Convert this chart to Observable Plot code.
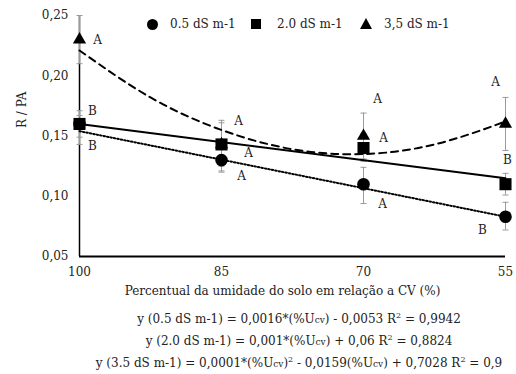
<!DOCTYPE html>
<html>
<head>
<meta charset="utf-8">
<script src="https://cdn.jsdelivr.net/npm/d3@7"></script>
<script src="https://cdn.jsdelivr.net/npm/@observablehq/plot@0.6"></script>
<style>
  body { margin: 0; background: white; font-family: "DejaVu Serif", "Liberation Serif", serif; color: #222; }
  #wrap { position: relative; width: 516px; height: 374px; }
  .lg { position: absolute; font-size: 12px; line-height: 16px; white-space: nowrap; }
  .sym { position: absolute; background: #000; }
  #eq { font-size: 12px; line-height: 21px; text-align: center; padding-left: 82px; padding-top: 7px; white-space: nowrap; }
  .sub { font-size: 9px; }
  sup { font-size: 8px; line-height: 0; }
  svg text { font-family: "DejaVu Serif", "Liberation Serif", serif; }
</style>
</head>
<body>
<div id="wrap">
  <div id="chart"></div>
  <div id="legend"></div>
  <div id="eq"></div>
</div>
<script>
// ---- data ----
const moisture = [100, 85, 70, 55];
const seriesNames = ["0.5 dS m-1", "2.0 dS m-1", "3,5 dS m-1"];
const v05 = [0.16, 0.13, 0.11, 0.083];
const v20 = [0.16, 0.143, 0.14, 0.11];
const v35 = [0.23, 0.143, 0.15, 0.16];
const lo05 = [0.143, 0.121, 0.094, 0.072];
const hi05 = [0.167, 0.139, 0.124, 0.095];
const lo20 = [0.149, 0.125, 0.129, 0.101];
const hi20 = [0.171, 0.161, 0.152, 0.119];
const lo35 = [0.21, 0.12, 0.131, 0.138];
const hi35 = [0.25, 0.163, 0.169, 0.182];
const letters05 = ["B", "A", "A", "B"];
const letters20 = ["B", "A", "A", "B"];
const letters35 = ["A", "A", "A", "A"];
const trendX = [100, 55];
const trend05 = [0.154, 0.083];
const trend20 = [0.16, 0.115];
const curveX = [100, 92.5, 85, 77.5, 70, 62.5, 55];
const trend35 = [0.221, 0.182, 0.155, 0.139, 0.135, 0.143, 0.162];
const xTicks = [100, 85, 70, 55];
const yTicks = [0.05, 0.10, 0.15, 0.20, 0.25];
const yTickLabels = ["0,05", "0,10", "0,15", "0,20", "0,25"];
const xTitle = "Percentual da umidade do solo em relação a CV (%)";
const yTitle = "R / PA";
const equations = [
  'y (0.5 dS m-1) = 0,0016*(%U<span class="sub">cv</span>) - 0,0053 R<sup>2</sup> = 0,9942',
  'y (2.0 dS m-1) = 0,001*(%U<span class="sub">cv</span>) + 0,06 R<sup>2</sup> = 0,8824',
  'y (3.5 dS m-1) = 0,0001*(%U<span class="sub">cv</span>)<sup>2</sup> - 0,0159(%U<span class="sub">cv</span>) + 0,7028 R<sup>2</sup> = 0,9'
];

const FONT = '"DejaVu Serif", "Liberation Serif", serif';

// ---- build tables ----
const vals = [v05, v20, v35], los = [lo05, lo20, lo35], his = [hi05, hi20, hi35];
const letters = [letters05, letters20, letters35];
const points = [];
vals.forEach((arr, s) => arr.forEach((v, i) => points.push({s, x: moisture[i], v, lo: los[s][i], hi: his[s][i]})));
const trendLin = [];
trendX.forEach((x, i) => { trendLin.push({s: 0, x, y: trend05[i]}); trendLin.push({s: 1, x, y: trend20[i]}); });
const curve = curveX.map((x, i) => ({x, y: trend35[i]}));

// label layout: [series, point, anchor, dx, dy]
const labelLayout = [
  [2, 0, "v", 18, 1], [1, 0, "hi", 13, 0], [0, 0, "lo", 13, 2],
  [2, 1, "hi", 17, 1], [1, 1, "v", 27, 9], [0, 1, "lo", 20, 5],
  [2, 2, "hi", 14, -14], [1, 2, "v", 20, -10], [0, 2, "lo", 19, 1],
  [2, 3, "hi", -10, -15], [1, 3, "hi", 2, -13], [0, 3, "lo", -23, 0]
];
const anchorOf = (s, i, a) => a === "v" ? vals[s][i] : a === "hi" ? his[s][i] : los[s][i];

const cap = { draw(ctx, size) { ctx.moveTo(-3, 0); ctx.lineTo(3, 0); } };
const symbols = ["circle", "square", "triangle"];
const radii = [6.3, 6.8, 4.9];

const marks = [
  Plot.ruleX([100], {stroke: "#000", strokeWidth: 1.5}),
  Plot.ruleY([0.05], {stroke: "#000", strokeWidth: 2}),
  Plot.ruleX(points, {x: "x", y1: "lo", y2: "hi", stroke: "#9a9a9a", strokeWidth: 1}),
  Plot.dot(points, {x: "x", y: "lo", symbol: cap, r: 2, stroke: "#9a9a9a", strokeWidth: 1, fill: "none"}),
  Plot.dot(points, {x: "x", y: "hi", symbol: cap, r: 2, stroke: "#9a9a9a", strokeWidth: 1, fill: "none"}),
  Plot.line(trendLin.filter(d => d.s === 0), {x: "x", y: "y", stroke: "#000", strokeWidth: 2, strokeDasharray: "1.5 2"}),
  Plot.line(trendLin.filter(d => d.s === 1), {x: "x", y: "y", stroke: "#000", strokeWidth: 2}),
  Plot.line(curve, {x: "x", y: "y", curve: "natural", stroke: "#000", strokeWidth: 2, strokeDasharray: "7 5"})
];
[0, 1, 2].forEach(s => {
  marks.push(Plot.dot(points.filter(d => d.s === s), {x: "x", y: "v", symbol: symbols[s], r: radii[s], fill: "#000", stroke: "none"}));
});
labelLayout.forEach(([s, i, a, dx, dy]) => {
  marks.push(Plot.text([{x: moisture[i], y: anchorOf(s, i, a), t: letters[s][i]}],
    {x: "x", y: "y", text: "t", dx, dy, fontSize: 12, fill: "#222", textAnchor: "middle"}));
});
marks.push(Plot.text([xTitle], {text: d => d, frameAnchor: "bottom", dy: 38, dx: -10, fontSize: 12, fill: "#222"}));
marks.push(Plot.text([yTitle], {text: d => d, frameAnchor: "left", dx: -57, dy: -8, rotate: -90, fontSize: 12, fill: "#222"}));

const chart = Plot.plot({
  width: 516, height: 302,
  marginLeft: 79, marginRight: 11, marginTop: 15, marginBottom: 46,
  style: {fontFamily: FONT, fontSize: "12px", color: "#222", background: "white"},
  x: {domain: [100, 55], ticks: xTicks, tickSize: 0, tickPadding: 11, label: null, tickFormat: d => String(d)},
  y: {domain: [0.05, 0.25], ticks: yTicks, tickSize: 0, tickPadding: 11, label: null,
      tickFormat: d => yTickLabels[yTicks.indexOf(d)]},
  marks
});
document.getElementById("chart").appendChild(chart);

// legend
const lg = document.getElementById("legend");
const legendItems = [
  {sym: "circle", symX: 146.5, textX: 170},
  {sym: "square", symX: 251, textX: 277},
  {sym: "triangle", symX: 360, textX: 384}
];
legendItems.forEach((it, k) => {
  const s = document.createElement("div");
  if (it.sym === "circle") { s.className = "sym"; Object.assign(s.style, {left: it.symX + "px", top: "18.5px", width: "11px", height: "11px", borderRadius: "50%"}); }
  else if (it.sym === "square") { s.className = "sym"; Object.assign(s.style, {left: it.symX + "px", top: "19px", width: "10px", height: "10px"}); }
  else { Object.assign(s.style, {position: "absolute", left: it.symX + "px", top: "18px", width: 0, height: 0, borderLeft: "6px solid transparent", borderRight: "6px solid transparent", borderBottom: "11px solid #000"}); }
  lg.appendChild(s);
  const t = document.createElement("div");
  t.className = "lg";
  t.style.left = it.textX + "px"; t.style.top = "16px";
  t.textContent = seriesNames[k];
  lg.appendChild(t);
});

document.getElementById("eq").innerHTML = equations.map(e => "<div>" + e + "</div>").join("");
</script>
</body>
</html>
